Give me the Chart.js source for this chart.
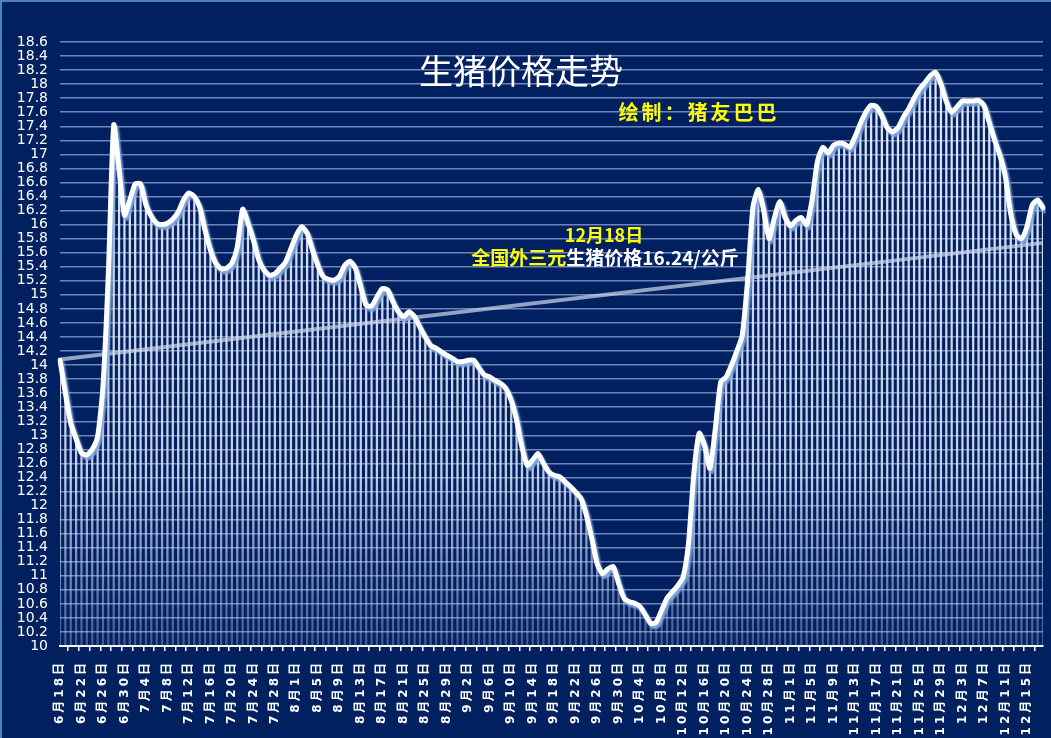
<!DOCTYPE html>
<html>
<head>
<meta charset="utf-8">
<script src="https://cdn.jsdelivr.net/npm/chart.js@4.4.1/dist/chart.umd.min.js"></script>
<style>
  html, body { margin: 0; padding: 0; background: #002060; }
  #wrap { position: relative; width: 1051px; height: 738px; overflow: hidden; background: #002060; }
  #chart { position: absolute; left: 0; top: 0; }
  .edge-top { position: absolute; left: 0; top: 0; width: 1051px; height: 2px; background: #4f81bd; }
  .edge-left { position: absolute; left: 0; top: 0; width: 2px; height: 738px; background: #4f81bd; }
  .txt { position: absolute; white-space: nowrap; line-height: 1; transform: translate(-50%, -50%);
         font-family: 'Noto Sans CJK SC', sans-serif; }
  #title  { left: 521px; top: 70px; font-size: 34px; color: #ffffff; }
  #credit { left: 699px; top: 112px; font-size: 20px; font-weight: bold; color: #ffff00; letter-spacing: 3px; }
  #date   { left: 604px; top: 234px; font-size: 18px; font-weight: bold; color: #ffff00; }
  #price  { left: 605px; top: 256px; font-size: 19px; font-weight: bold; color: #ffffff; }
  #price span { color: #ffff00; }
</style>
</head>
<body>
<div id="wrap">
  <canvas id="chart" width="1051" height="738"></canvas>
  <div class="edge-top"></div>
  <div class="edge-left"></div>
  <div class="txt" id="title">生猪价格走势</div>
  <div class="txt" id="credit">绘制：猪友巴巴</div>
  <div class="txt" id="date">12月18日</div>
  <div class="txt" id="price"><span>全国外三元</span>生猪价格16.24/公斤</div>
</div>
<script>
// ------------------------------------------------------------
// Datos
// ------------------------------------------------------------

// Tramos de fechas: [mes, día inicial, día final]
const monthSpans = [[6, 18, 30], [7, 1, 31], [8, 1, 31], [9, 1, 30], [10, 1, 31], [11, 1, 30], [12, 1, 18]];

const dateLabels = [];
monthSpans.forEach(([m, d0, d1]) => {
  for (let d = d0; d <= d1; d++) dateLabels.push(`${m}月${d}日`);
});

// Precio diario (元/公斤), 6月18日 … 12月18日
const prices = [
  14.07, 13.60, 13.17, 12.95, 12.75, 12.72, 12.80, 12.98, 13.70, 15.30,
  17.42, 16.78, 16.13, 16.35, 16.58, 16.58, 16.28, 16.12, 16.02, 16.00,
  16.02, 16.08, 16.18, 16.35, 16.45, 16.40, 16.25, 15.92, 15.64, 15.45,
  15.37, 15.38, 15.45, 15.68, 16.22, 16.02, 15.78, 15.50, 15.35, 15.28,
  15.30, 15.38, 15.47, 15.66, 15.85, 15.97, 15.88, 15.64, 15.42, 15.26,
  15.22, 15.21, 15.26, 15.42, 15.48, 15.38, 15.11, 14.85, 14.84, 14.97,
  15.09, 15.07, 14.90, 14.76, 14.69, 14.76, 14.69, 14.54, 14.40, 14.28,
  14.24, 14.19, 14.14, 14.10, 14.05, 14.05, 14.07, 14.07, 13.96, 13.86,
  13.83, 13.78, 13.74, 13.67, 13.50, 13.22, 12.83, 12.57, 12.65, 12.74,
  12.60, 12.48, 12.43, 12.41, 12.34, 12.27, 12.19, 12.10, 11.86, 11.53,
  11.17, 11.03, 11.10, 11.13, 10.89, 10.68, 10.63, 10.61, 10.56, 10.44,
  10.32, 10.34, 10.51, 10.68, 10.77, 10.86, 10.98, 11.46, 12.46, 13.03,
  12.85, 12.53, 13.10, 13.76, 13.83, 14.00, 14.20, 14.42, 15.20, 16.25,
  16.50, 16.20, 15.80, 16.10, 16.33, 16.10, 15.98, 16.06, 16.10, 16.00,
  16.35, 16.90, 17.10, 17.02, 17.13, 17.16, 17.15, 17.10, 17.25, 17.44,
  17.60, 17.70, 17.68, 17.55, 17.38, 17.32, 17.38, 17.53, 17.65, 17.80,
  17.93, 18.02, 18.12, 18.17, 18.00, 17.75, 17.60, 17.68, 17.76, 17.76,
  17.76, 17.77, 17.70, 17.45, 17.20, 16.98, 16.68, 16.15, 15.86, 15.80,
  15.97, 16.28, 16.35, 16.24,
];

// Línea de tendencia: valor al inicio y al final
const trendLine = [14.08, 15.74];

// Eje Y
const yMin = 10;
const yMax = 18.6;
const yStep = 0.2;

// Cada cuántos días va una etiqueta del eje X
const labelEvery = 4;

// ------------------------------------------------------------
// Helpers
// ------------------------------------------------------------

/** Degradado de las rayas verticales (más tenue abajo) */
function stripeColor(ctx) {
  const chart = ctx.chart;
  const area = chart.chartArea;
  if (!area) return 'rgba(215,225,245,0.8)';
  const g = chart.ctx.createLinearGradient(0, area.top, 0, area.bottom);
  g.addColorStop(0, 'rgba(235,240,253,0.97)');
  g.addColorStop(0.72, 'rgba(218,228,248,0.88)');
  g.addColorStop(1, 'rgba(180,198,235,0.35)');
  return g;
}

/** Sombra azulada bajo la línea principal */
const lineShadow = {
  id: 'lineShadow',
  beforeDatasetDraw(chart, args) {
    if (args.index !== 2) return;
    const ctx = chart.ctx;
    ctx.save();
    ctx.shadowColor = 'rgba(130,170,225,0.95)';
    ctx.shadowOffsetX = 2;
    ctx.shadowOffsetY = 3;
    ctx.shadowBlur = 2;
  },
  afterDatasetDraw(chart, args) {
    if (args.index !== 2) return;
    chart.ctx.restore();
  },
};

/**
 * Etiquetas del eje X: texto girado, carácter a carácter,
 * para poder separar las letras como en el original.
 */
const xLabels = {
  id: 'xLabels',
  afterDraw(chart) {
    const ctx = chart.ctx;
    const xs = chart.scales.x;
    const top = chart.chartArea.bottom + 17;
    const gap = 3;
    ctx.save();
    ctx.font = "bold 12px 'DejaVu Sans', 'Noto Sans CJK SC', sans-serif";
    ctx.fillStyle = '#ffffff';
    ctx.textBaseline = 'middle';
    ctx.textAlign = 'left';
    dateLabels.forEach((label, i) => {
      if (i % labelEvery !== 0) return;
      const chars = [...label];
      const widths = chars.map(c => ctx.measureText(c).width);
      const total = widths.reduce((a, b) => a + b, 0) + gap * (chars.length - 1);
      ctx.save();
      ctx.translate(xs.getPixelForValue(i), top + total);
      ctx.rotate(-Math.PI / 2);
      let pos = 0;
      chars.forEach((c, k) => {
        ctx.fillText(c, pos, 0);
        pos += widths[k] + gap;
      });
      ctx.restore();
    });
    ctx.restore();
  },
};

// ------------------------------------------------------------
// Gráfico
// ------------------------------------------------------------

const trendData = [
  { x: dateLabels[0], y: trendLine[0] },
  { x: dateLabels[dateLabels.length - 1], y: trendLine[1] },
];

new Chart(document.getElementById('chart'), {
  type: 'bar',
  data: {
    labels: dateLabels,
    datasets: [
      {
        type: 'bar',
        data: prices,
        backgroundColor: stripeColor,
        barThickness: 1.6,
        borderWidth: 0,
        order: 3,
      },
      {
        type: 'line',
        data: trendData,
        borderColor: 'rgba(205,214,235,0.72)',
        borderWidth: 4,
        pointRadius: 0,
        tension: 0,
        order: 2,
      },
      {
        type: 'line',
        data: prices,
        borderColor: '#ffffff',
        borderWidth: 5,
        borderJoinStyle: 'round',
        borderCapStyle: 'round',
        pointRadius: 0,
        tension: 0.2,
        order: 1,
      },
    ],
  },
  options: {
    responsive: false,
    animation: false,
    devicePixelRatio: 1,
    layout: { padding: { left: 0, top: 42, right: 8, bottom: 0 } },
    plugins: {
      legend: { display: false },
      tooltip: { enabled: false },
    },
    scales: {
      x: {
        offset: false,
        afterFit(scale) {
          scale.height = 92;
          scale.paddingLeft = 0;
          scale.paddingRight = 0;
        },
        grid: {
          drawOnChartArea: false,
          drawTicks: true,
          tickLength: 5,
          lineWidth: 1.5,
          color: ctx => (ctx.index % 2 === 0 ? '#ffffff' : 'rgba(0,0,0,0)'),
        },
        border: { display: true, color: '#ffffff', width: 2 },
        ticks: {
          autoSkip: false,
          maxRotation: 0,
          minRotation: 0,
          color: 'rgba(0,0,0,0)',
          font: { size: 1 },
          callback: () => '',
        },
      },
      y: {
        min: yMin,
        max: yMax,
        afterFit(scale) { scale.width = 60; },
        grid: { color: '#6f84bb', lineWidth: 1.5, drawTicks: false },
        border: { display: false },
        ticks: {
          stepSize: yStep,
          autoSkip: false,
          maxTicksLimit: 100,
          padding: 12,
          color: '#ffffff',
          font: { family: "'DejaVu Sans', sans-serif", size: 14 },
          callback: v => String(Number(v.toFixed(1))),
        },
      },
    },
  },
  plugins: [lineShadow, xLabels],
});
</script>
</body>
</html>
